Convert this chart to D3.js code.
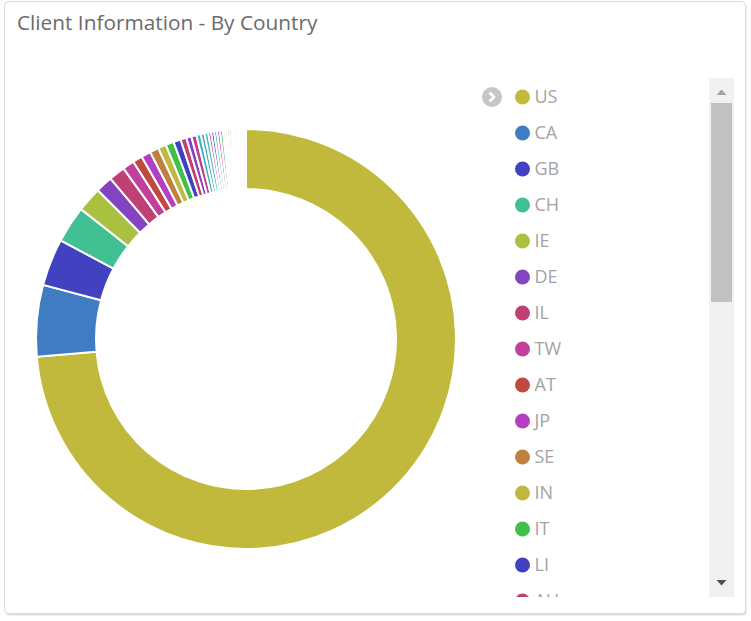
<!DOCTYPE html>
<html>
<head>
<meta charset="utf-8">
<script src="https://cdn.jsdelivr.net/npm/d3@7.9.0/dist/d3.min.js"></script>
<style>
  body { margin: 0; background: #fff; font-family: "Open Sans", sans-serif; }
  svg { display: block; }
</style>
</head>
<body>
<svg id="chart" width="751" height="621"></svg>
<script>
// countries sorted by client count (legend order)
const countries = ['US', 'CA', 'GB', 'CH', 'IE', 'DE', 'IL', 'TW', 'AT', 'JP', 'SE', 'IN', 'IT', 'LI', 'AU',
  'NL', 'FR', 'ES', 'BE', 'DK', 'NO', 'FI', 'SG', 'HK', 'BR', 'KR', 'NZ', 'PL', 'CN',
  'MX', 'PT', 'CZ', 'RU', 'ZA', 'AR', 'GR', 'HU', 'TR', 'AE', 'LU', 'MY', 'TH'];
const counts = [1300, 97, 64, 50, 34, 23, 22, 16, 13, 13, 12, 11, 11, 10, 8,
  7, 7, 6, 5, 5, 4, 4, 4, 4, 4, 3, 3, 3, 3,
  2, 2, 2, 2, 2, 2, 1, 1, 1, 1, 1, 1, 1, 1];
const colors = ['#c0b93c', '#3f7cc1', '#4242c1', '#40c093', '#aac040', '#8443c0', '#c04076', '#c0409c',
  '#c04a40', '#b340c0', '#c08040', '#c0b840', '#40c048', '#4040c0', '#c0406e',
  '#8a40c0', '#c04090', '#40b4c0', '#40a8c0', '#40c0b0', '#c040b8', '#5050c0', '#40c0a0', '#c050c8',
  '#60c070', '#a0c040', '#b0b840', '#c06050', '#6040c0',
  '#40c0c0', '#c04060', '#80c040', '#c0a040', '#4080c0', '#a040c0', '#40c070', '#c07040',
  '#c040a0', '#60a0c0', '#9040c0', '#c0c040', '#40c0d0'];

const data = countries.map((c, i) => ({ label: c, value: counts[i], color: colors[i] }));

const svg = d3.select('#chart');

// card
svg.append('rect')
  .attr('x', 5.5).attr('y', 3.5).attr('width', 741).attr('height', 612)
  .attr('rx', 4).attr('fill', '#d9dfea');
svg.append('rect')
  .attr('x', 4.5).attr('y', 1.5).attr('width', 741).attr('height', 612)
  .attr('rx', 4).attr('fill', '#fff').attr('stroke', '#d3dae6');

svg.append('text')
  .attr('x', 17).attr('y', 30)
  .attr('font-size', 20.8).attr('fill', '#6b6b6b')
  .text('Client Information - By Country');

// donut
let arcGenerator = d3.arc().innerRadius(150).outerRadius(210);
let sliceGenerator = d3.pie().sort(null).value((d) => d.value);
let arcData = sliceGenerator(data);

let pie = svg.append('g').attr('transform', 'translate(246,339)');
pie.selectAll('path')
  .data(arcData)
  .join('path')
  .attr('d', arcGenerator)
  .attr('fill', (d) => d.data.color)
  .attr('stroke', '#fff')
  .attr('stroke-width', 2);

// legend (scroll box, only the top part is in view)
svg.append('clipPath').attr('id', 'legclip')
  .append('rect').attr('x', 470).attr('y', 78).attr('width', 239).attr('height', 519);

let legend = svg.append('g').attr('clip-path', 'url(#legclip)');
let y = d3.scaleBand().domain(countries).range([79, 79 + 36 * countries.length]);

let item = legend.selectAll('g')
  .data(data)
  .join('g')
  .attr('transform', (d) => `translate(0,${y(d.label) + y.bandwidth() / 2})`)
  .attr('visibility', (d) => y(d.label) < 597 ? null : 'hidden');
item.append('circle')
  .attr('cx', 522.5).attr('r', 7.5)
  .attr('fill', (d) => d.color);
item.append('text')
  .attr('x', 534.5).attr('dy', '0.35em')
  .attr('font-size', 18).attr('fill', '#a3a3a3')
  .text((d) => d.label);

// toggle icon
let toggle = svg.append('g').attr('transform', `translate(492,${y('US') + y.bandwidth() / 2})`);
toggle.append('circle').attr('r', 10).attr('fill', '#c6c6c6');
toggle.append('path')
  .attr('d', 'M-2.5,-4.5 L2,0 L-2.5,4.5')
  .attr('fill', 'none').attr('stroke', '#fff').attr('stroke-width', 2.6);

// scrollbar
svg.append('rect').attr('x', 709).attr('y', 78).attr('width', 25).attr('height', 519).attr('fill', '#f1f1f1');
svg.append('rect').attr('x', 711).attr('y', 103).attr('width', 21).attr('height', 199).attr('fill', '#c1c1c1');
svg.append('path').attr('d', 'M716.5,95 L721.5,89.5 L726.5,95 Z').attr('fill', '#a3a3a3');
svg.append('path').attr('d', 'M716.5,580 L721.5,585.5 L726.5,580 Z').attr('fill', '#505050');
</script>
</body>
</html>
